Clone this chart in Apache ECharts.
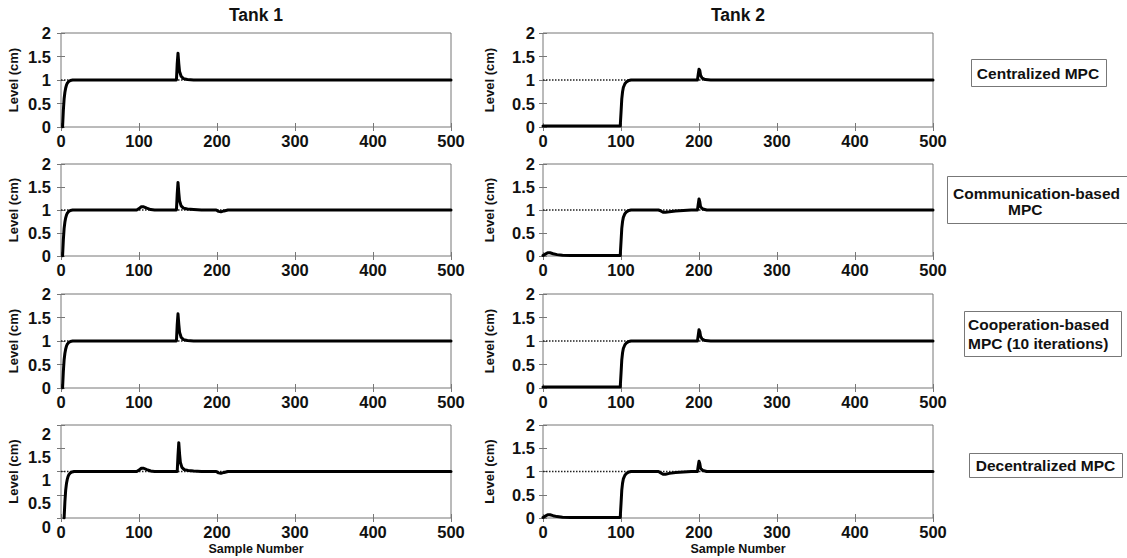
<!DOCTYPE html>
<html>
<head>
<meta charset="utf-8">
<script src="https://cdn.jsdelivr.net/npm/echarts@6/dist/echarts.min.js"></script>
<style>
html,body{margin:0;padding:0;background:#fff;}
#chart{width:1127px;height:558px;}
</style>
</head>
<body>
<div id="chart"></div>
<script>
// ---------- data ----------
const columnTitles = ['Tank 1', 'Tank 2'];
const methodLabels = ['Centralized MPC', 'Communication-based MPC', 'Cooperation-based MPC (10 iterations)', 'Decentralized MPC'];
const sampleTicks = [0, 100, 200, 300, 400, 500];
const levelTicks = [0, 0.5, 1, 1.5, 2];
const setpoint = [[0, 1], [500, 1]];

const tank1Centralized = [[2,0],[3,0.35],[4,0.6],[5,0.74],[6,0.83],[7,0.89],[8,0.93],[10,0.97],[12,0.99],[15,1],[148,1],[149,1.35],[150,1.57],[151,1.35],[152,1.18],[154,1.08],[157,1.03],[162,1.01],[170,1],[500,1]];
const tank1Communication = [[2,0],[3,0.35],[4,0.6],[5,0.74],[6,0.83],[7,0.89],[8,0.93],[10,0.97],[12,0.99],[15,1],[97,1],[100,1.03],[103,1.07],[106,1.07],[110,1.04],[115,1.01],[120,1],[148,1],[149,1.35],[150,1.6],[151,1.38],[152,1.2],[154,1.09],[157,1.04],[162,1.02],[170,1.01],[180,1],[199,1],[202,0.97],[205,0.96],[209,0.98],[214,1],[500,1]];
const tank1Cooperation = [[2,0],[3,0.35],[4,0.6],[5,0.74],[6,0.83],[7,0.89],[8,0.93],[10,0.97],[12,0.99],[15,1],[148,1],[149,1.35],[150,1.58],[151,1.36],[152,1.19],[154,1.08],[157,1.03],[162,1.01],[170,1],[500,1]];
const tank1Decentralized = [[4,0],[5,0.35],[6,0.6],[7,0.74],[8,0.83],[9,0.89],[10,0.93],[12,0.97],[14,0.99],[17,1],[97,1],[100,1.03],[103,1.07],[106,1.07],[110,1.04],[115,1.01],[120,1],[149,1],[150,1.35],[151,1.62],[152,1.38],[153,1.2],[155,1.09],[158,1.04],[163,1.02],[170,1.01],[180,1],[199,1],[202,0.97],[205,0.96],[209,0.98],[214,1],[500,1]];

const tank2Centralized = [[0,0.02],[99,0.02],[100,0.3],[101,0.6],[102,0.75],[103,0.84],[105,0.92],[107,0.96],[110,0.99],[113,1],[198,1],[199,1.12],[200,1.23],[201,1.2],[202,1.1],[204,1.04],[208,1.01],[215,1],[500,1]];
const tank2Communication = [[0,0.01],[3,0.04],[6,0.07],[9,0.07],[13,0.05],[18,0.03],[25,0.015],[35,0.01],[99,0.01],[100,0.3],[101,0.6],[102,0.75],[103,0.84],[105,0.92],[107,0.96],[110,0.99],[113,1],[148,1],[151,0.98],[154,0.95],[157,0.95],[162,0.96],[170,0.98],[180,0.99],[190,1],[198,1],[199,1.12],[200,1.24],[201,1.18],[202,1.07],[205,1.02],[210,1],[500,1]];
const tank2Cooperation = [[0,0.02],[99,0.02],[100,0.3],[101,0.6],[102,0.75],[103,0.84],[105,0.92],[107,0.96],[110,0.99],[113,1],[198,1],[199,1.12],[200,1.24],[201,1.2],[202,1.1],[204,1.04],[208,1.01],[215,1],[500,1]];
const tank2Decentralized = [[0,0.01],[3,0.04],[6,0.07],[9,0.07],[13,0.05],[18,0.03],[25,0.015],[35,0.01],[99,0.01],[100,0.3],[101,0.6],[102,0.75],[103,0.84],[105,0.92],[107,0.96],[110,0.99],[113,1],[148,1],[151,0.97],[154,0.94],[157,0.94],[162,0.96],[170,0.98],[180,0.99],[190,1],[198,1],[199,1.12],[200,1.22],[201,1.17],[202,1.07],[205,1.02],[210,1],[500,1]];

const panelData = [
  [tank1Centralized, tank2Centralized],
  [tank1Communication, tank2Communication],
  [tank1Cooperation, tank2Cooperation],
  [tank1Decentralized, tank2Decentralized]
];

// ---------- layout ----------
const FONT = '"Liberation Sans", Arial, sans-serif';
const colLeft = [61, 543];
const colWidth = 390;
const rowTop = [33, 164, 294, 425];
const rowHeight = [94, 92, 94, 93];
const frameColor = '#777';

const grids = [], xAxes = [], yAxes = [], series = [];
let gi = 0;
for (let r = 0; r < 4; r++) {
  for (let c = 0; c < 2; c++) {
    grids.push({
      left: colLeft[c], top: rowTop[r], width: colWidth, height: rowHeight[r],
      show: true, borderColor: frameColor, borderWidth: 1, backgroundColor: 'transparent'
    });
    const tickStyle = { show: true, inside: true, length: 4, lineStyle: { color: frameColor, width: 1 } };
    const labelStyle = { fontFamily: FONT, fontWeight: 'bold', fontSize: 16.5, color: '#111' };
    // bottom x
    xAxes.push({
      type: 'value', gridIndex: gi, min: sampleTicks[0], max: sampleTicks[sampleTicks.length - 1], interval: 100,
      position: 'bottom', axisLine: { show: false }, axisTick: tickStyle, splitLine: { show: false },
      axisLabel: Object.assign({ margin: 5 }, labelStyle),
      name: r === 3 ? 'Sample Number' : '', nameLocation: 'middle', nameGap: 24,
      nameTextStyle: { fontFamily: FONT, fontWeight: 'bold', fontSize: 12.5, color: '#111' }
    });
    // top x (ticks only)
    xAxes.push({
      type: 'value', gridIndex: gi, min: 0, max: 500, interval: 100, position: 'top',
      axisLine: { show: false }, axisTick: tickStyle, axisLabel: { show: false }, splitLine: { show: false }
    });
    // left y
    const yLabel = Object.assign({ margin: c === 0 ? 10 : 8 }, labelStyle);
    if (r === 3 && c === 0) yLabel.verticalAlign = 'top';
    yAxes.push({
      type: 'value', gridIndex: gi, min: levelTicks[0], max: levelTicks[levelTicks.length - 1], interval: 0.5,
      position: 'left', axisLine: { show: false }, axisTick: tickStyle, splitLine: { show: false },
      axisLabel: yLabel,
      name: 'Level (cm)', nameLocation: 'middle', nameGap: c === 0 ? 41 : 47, nameRotate: 90,
      nameTextStyle: { fontFamily: FONT, fontWeight: 'bold', fontSize: 13, color: '#111' }
    });
    // right y (ticks only)
    yAxes.push({
      type: 'value', gridIndex: gi, min: 0, max: 2, interval: 0.5, position: 'right',
      axisLine: { show: false }, axisTick: tickStyle, axisLabel: { show: false }, splitLine: { show: false }
    });
    series.push({
      type: 'line', xAxisIndex: gi * 2, yAxisIndex: gi * 2, data: setpoint,
      symbol: 'none', silent: true, z: 1,
      lineStyle: { color: '#222', width: 1.5, type: [1.5, 1.5] }
    });
    series.push({
      type: 'line', xAxisIndex: gi * 2, yAxisIndex: gi * 2, data: panelData[r][c],
      symbol: 'none', silent: true, z: 2,
      lineStyle: { color: '#000', width: 3, join: 'round', cap: 'round' }
    });
    gi++;
  }
}

// ---------- annotations ----------
const txt = (x, y, text, size, align) => ({
  type: 'text', x: x, y: y, silent: true,
  style: { text: text, fontFamily: FONT, fontWeight: 'bold', fontSize: size, fill: '#111',
           textAlign: align || 'center', textVerticalAlign: 'middle', align: align || 'center', verticalAlign: 'middle' }
});
const box = (x, y, w, h) => ({
  type: 'rect', silent: true, shape: { x: x, y: y, width: w, height: h },
  style: { fill: '#fff', stroke: frameColor, lineWidth: 1 }
});

const graphic = [
  txt(256, 15, columnTitles[0], 17.5),
  txt(738, 15, columnTitles[1], 17.5),
  box(971.5, 59.5, 135, 27),
  txt(1038, 73, methodLabels[0], 15.5),
  box(947.5, 176.5, 185, 47),
  txt(953, 193.5, 'Communication-based', 15.5, 'left'),
  txt(1008, 209.5, 'MPC', 15.5, 'left'),
  box(964.5, 311.5, 157, 45),
  txt(968, 324, 'Cooperation-based', 15.5, 'left'),
  txt(968, 343, 'MPC (10 iterations)', 15.5, 'left'),
  box(969.5, 453.5, 153, 24),
  txt(1045.5, 465.5, methodLabels[3], 15.5)
];

const chart = echarts.init(document.getElementById('chart'), null, { renderer: 'svg' });
chart.setOption({
  animation: false,
  backgroundColor: '#fff',
  grid: grids,
  xAxis: xAxes,
  yAxis: yAxes,
  series: series,
  graphic: graphic
});
</script>
</body>
</html>
